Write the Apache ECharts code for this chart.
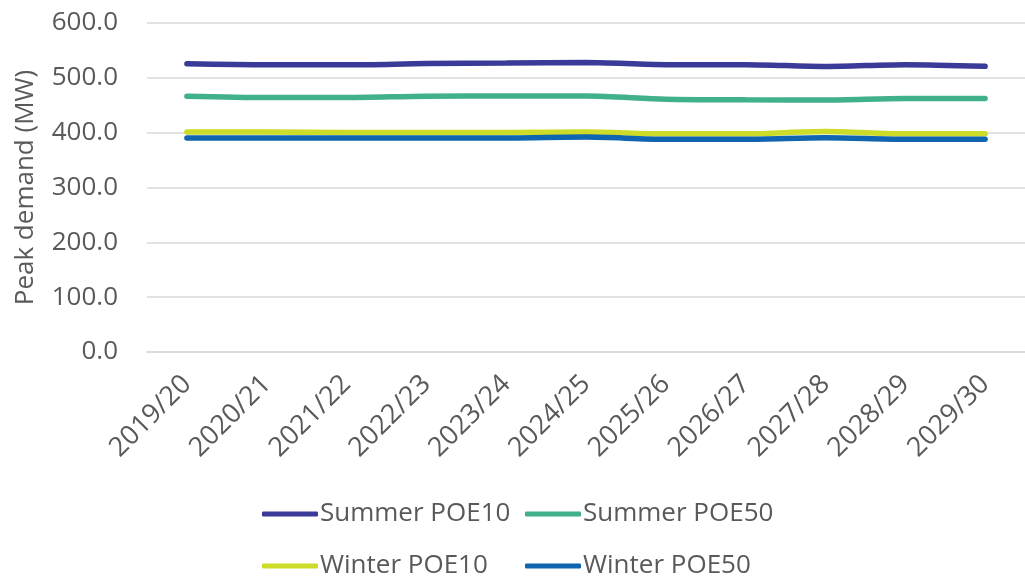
<!DOCTYPE html>
<html><head><meta charset="utf-8">
<script src="https://cdn.jsdelivr.net/npm/echarts@6/dist/echarts.min.js"></script>
<style>html,body{margin:0;padding:0;background:#fff}#c{width:1025px;height:577px}</style>
</head><body><div id="c"></div>
<script>
const categories = ["2019/20","2020/21","2021/22","2022/23","2023/24","2024/25","2025/26","2026/27","2027/28","2028/29","2029/30"];
const summerPOE10 = [525.5, 523.7, 523.7, 526.0, 527.0, 528.0, 524.0, 524.0, 520.7, 524.0, 521.0];
const summerPOE50 = [466.5, 464.0, 464.0, 466.5, 466.8, 466.8, 461.0, 460.0, 459.7, 462.5, 462.5];
const winterPOE10 = [401.0, 401.0, 400.5, 400.5, 400.5, 401.0, 397.8, 398.0, 402.0, 397.9, 397.8];
const winterPOE50 = [390.3, 390.3, 390.3, 390.3, 390.3, 392.0, 388.0, 388.0, 390.7, 388.0, 388.0];
const seriesNames = ["Summer POE10","Summer POE50","Winter POE10","Winter POE50"];
const colors = ["#3A3A98","#41B08C","#CDDC29","#0F65B0"];
const FONT = "Open Sans";
const TXT = "#595959";
const chart = echarts.init(document.getElementById('c'));
const legendPos = [[262, 501], [525, 501], [262, 553], [525, 553]];
const legends = seriesNames.map((n, i) => ({
  data: [n], left: legendPos[i][0], top: legendPos[i][1],
  itemWidth: 56, itemHeight: 5, icon: 'roundRect', padding: 0,
  textStyle: {fontFamily: FONT, fontSize: 26, color: TXT, padding: [0,0,0,-3]}
}));
chart.setOption({
  animation: false,
  color: colors,
  textStyle: {fontFamily: FONT},
  grid: {left: 147, right: -11, top: 23, bottom: 225, containLabel: false},
  legend: legends,
  xAxis: {
    type: 'category', data: categories, boundaryGap: true,
    axisLine: {lineStyle: {color: '#D9D9D9', width: 1.5}},
    axisTick: {show: false},
    axisLabel: {rotate: 45, fontFamily: FONT, fontSize: 27, color: TXT, margin: 28, interval: 0}
  },
  yAxis: {
    type: 'value', min: 0, max: 600, interval: 100,
    name: 'Peak demand (MW)', nameLocation: 'middle', nameGap: 108,
    nameTextStyle: {fontFamily: FONT, fontSize: 26, color: TXT},
    axisLine: {show: false}, axisTick: {show: false},
    axisLabel: {formatter: v => v.toFixed(1), fontFamily: FONT, fontSize: 26, color: TXT, margin: 29},
    splitLine: {lineStyle: {color: '#D9D9D9', width: 1.5}}
  },
  series: [summerPOE10, summerPOE50, winterPOE10, winterPOE50].map((d, i) => ({
    name: seriesNames[i], type: 'line', data: d, smooth: 0.3, symbol: 'none',
    lineStyle: {width: 5.5, cap: 'round', color: colors[i]}
  }))
});
</script></body></html>
